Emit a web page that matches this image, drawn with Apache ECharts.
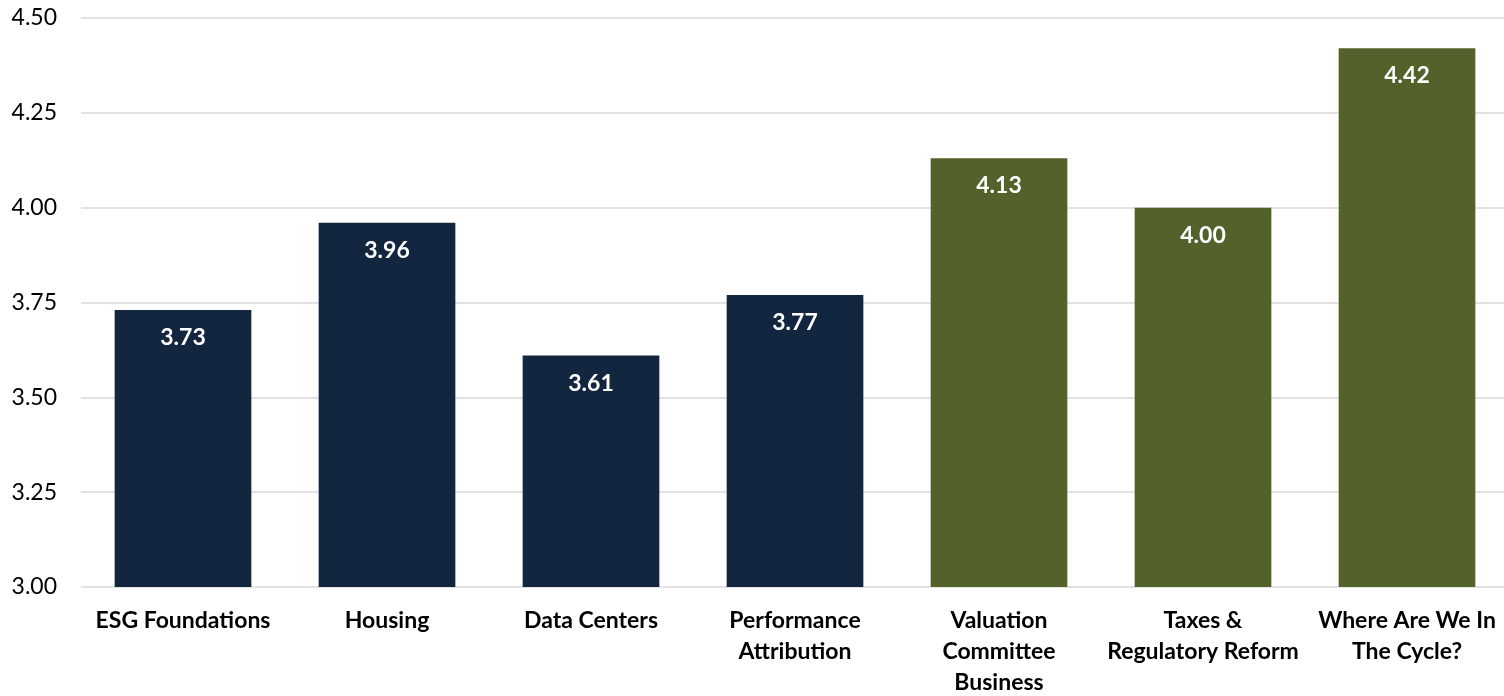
<!DOCTYPE html>
<html><head><meta charset="utf-8">
<script src="https://cdn.jsdelivr.net/npm/echarts@6/dist/echarts.min.js"></script>
<style>html,body{margin:0;padding:0;background:#fff}#c{width:1504px;height:696px}</style>
</head><body><div id="c"></div>
<script>
const categories = ["ESG Foundations","Housing","Data Centers","Performance\nAttribution","Valuation\nCommittee\nBusiness","Taxes &\nRegulatory Reform","Where Are We In\nThe Cycle?"];
const values = [3.73,3.96,3.61,3.77,4.13,4.00,4.42];
const groups = ["navy","navy","navy","navy","green","green","green"];
const palette = {navy:"#13263F", green:"#52622A"};
const FONT = "Lato, 'Noto Sans', sans-serif";
const chart = echarts.init(document.getElementById('c'));
chart.setOption({
  animation:false,
  grid:{left:81,right:-5,top:18,bottom:109,containLabel:false,outerBoundsMode:'none'},
  xAxis:{type:'category',data:categories,
    axisLine:{show:false},axisTick:{show:false},
    axisLabel:{interval:0,margin:18,fontFamily:FONT,fontWeight:'bold',fontSize:23,color:'#000',lineHeight:31}},
  yAxis:{type:'value',min:3,max:4.5,interval:0.25,
    axisLine:{show:false},axisTick:{show:false},
    splitLine:{lineStyle:{color:'#d9d9d9',width:1.5}},
    axisLabel:{margin:24,fontFamily:FONT,fontSize:23,color:'#000',formatter:v=>v.toFixed(2)}},
  series:[{type:'bar',barCategoryGap:'33%',
    data:values.map((v,i)=>({value:v,itemStyle:{color:palette[groups[i]]}})),
    label:{show:true,position:'insideTop',distance:16,color:'#fff',fontFamily:FONT,fontWeight:'bold',fontSize:23,formatter:p=>p.value.toFixed(2)}
  }]
});
</script></body></html>
